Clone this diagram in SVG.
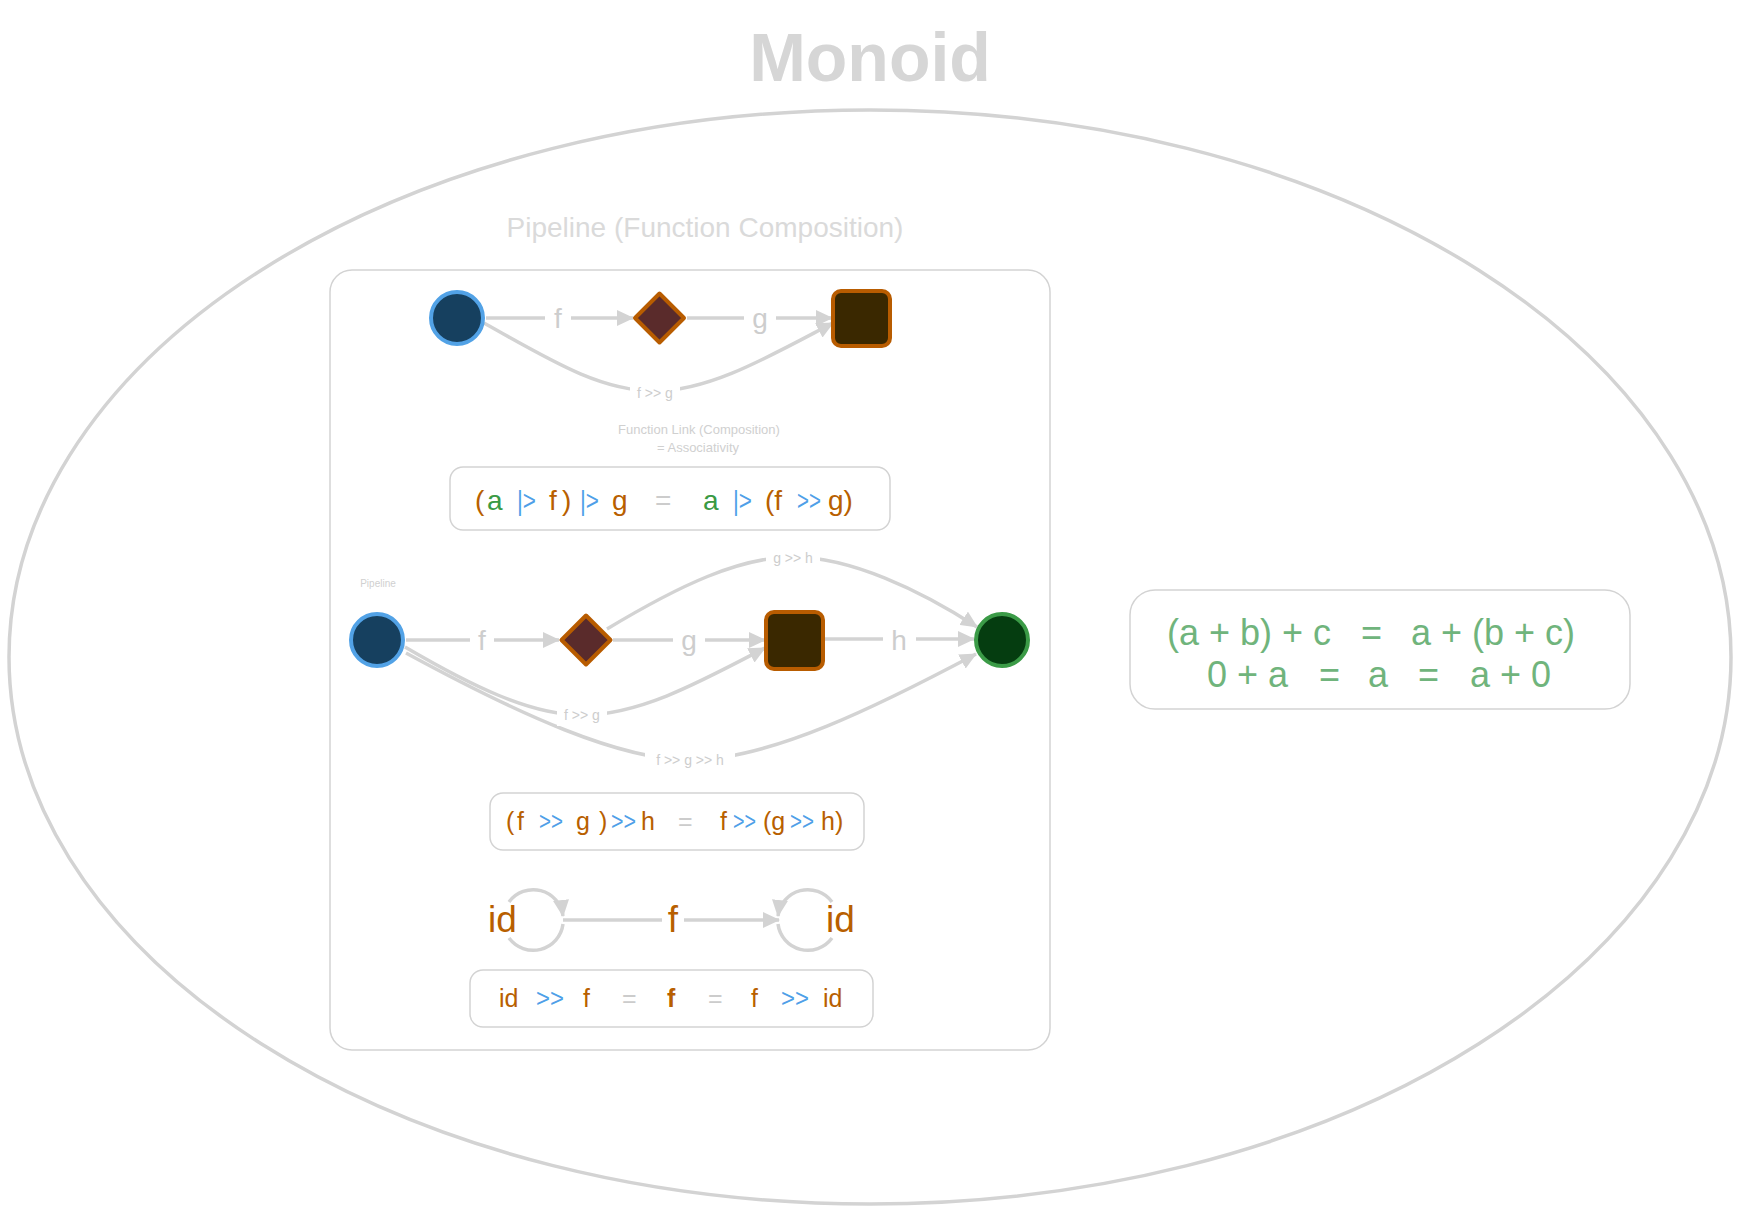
<svg xmlns="http://www.w3.org/2000/svg" width="1740" height="1214" viewBox="0 0 1740 1214">
<style>
text{font-family:"Liberation Sans",Arial,sans-serif}
.edge{fill:none;stroke:#d3d3d3;stroke-width:3.5}
.lbl{fill:#cdcdcd;text-anchor:middle}
.bg{fill:#ffffff}
.o{fill:#b85f00}.b{fill:#4f9fe8}.g{fill:#3a9a44}.q{fill:#cccccc}
.box{fill:#ffffff;stroke:#d3d3d3;stroke-width:1.5}
.circ{fill:#16405f;stroke:#52a2e6;stroke-width:4}
.dia{fill:#5a2b2b;stroke:#b85c00;stroke-width:4;stroke-linejoin:round}
.sq{fill:#3a2800;stroke:#b85c00;stroke-width:4}
.fin{fill:#053d10;stroke:#3b9b47;stroke-width:4}
</style>
<defs>
<marker id="ah" markerUnits="userSpaceOnUse" markerWidth="17" markerHeight="16" refX="16" refY="8" orient="auto" viewBox="0 0 17 16"><path d="M0,0 L17,8 L0,16 z" fill="#d3d3d3"/></marker>
</defs>
<rect width="1740" height="1214" fill="#ffffff"/>
<g id="monoid">
<ellipse cx="870" cy="657" rx="861" ry="547" fill="#ffffff" stroke="#d3d3d3" stroke-width="3.5"/>
<text x="870" y="81" font-size="68" font-weight="bold" fill="#d6d6d6" text-anchor="middle">Monoid</text>
</g>
<g id="pipeline">
<text x="705" y="237" font-size="28" fill="#dadada" text-anchor="middle">Pipeline (Function Composition)</text>
<rect x="330" y="270" width="720" height="780" rx="22" fill="#ffffff" stroke="#d3d3d3" stroke-width="1.5"/>
</g>
<g id="connectors">
<line class="edge" x1="486" y1="318" x2="633" y2="318" marker-end="url(#ah)"/>
<line class="edge" x1="687" y1="318" x2="832" y2="318" marker-end="url(#ah)"/>
<path class="edge" d="M484 323 C550 360,600 391,655 391 C710 391,770 356,833 323" marker-end="url(#ah)"/>
<line class="edge" x1="406" y1="640" x2="559" y2="640" marker-end="url(#ah)"/>
<line class="edge" x1="613" y1="640" x2="765" y2="640" marker-end="url(#ah)"/>
<line class="edge" x1="825" y1="639" x2="974" y2="639" marker-end="url(#ah)"/>
<path class="edge" d="M607 629 C680 585,740 557,793 557 C850 557,920 590,977 627" marker-end="url(#ah)"/>
<path class="edge" d="M405 647 C470 685,530 715,582 715 C640 715,700 682,765 648" marker-end="url(#ah)"/>
<path class="edge" d="M406 653 C520 715,620 760,690 760 C770 760,880 705,976 654" marker-end="url(#ah)"/>
<path class="edge" d="M509 902 A30 30 0 0 1 563 916" marker-end="url(#ah)"/>
<path class="edge" d="M563 924 A30 30 0 0 1 509 938"/>
<line class="edge" x1="563" y1="920" x2="779" y2="920" marker-end="url(#ah)"/>
<path class="edge" d="M832 902 A30 30 0 0 0 778 916" marker-end="url(#ah)"/>
<path class="edge" d="M778 924 A30 30 0 0 0 832 938"/>
</g>
<g id="edge-labels">
<rect class="bg" x="545" y="302" width="26" height="32"/><text class="lbl" x="558" y="328" font-size="28">f</text>
<rect class="bg" x="744" y="302" width="32" height="32"/><text class="lbl" x="760" y="328" font-size="28">g</text>
<rect class="bg" x="630" y="382" width="50" height="20"/><text class="lbl" x="655" y="398" font-size="14">f &gt;&gt; g</text>
<rect class="bg" x="470" y="624" width="24" height="32"/><text class="lbl" x="482" y="650" font-size="28">f</text>
<rect class="bg" x="673" y="624" width="32" height="32"/><text class="lbl" x="689" y="650" font-size="28">g</text>
<rect class="bg" x="883" y="624" width="33" height="32"/><text class="lbl" x="899" y="650" font-size="28">h</text>
<rect class="bg" x="766" y="548" width="54" height="20"/><text class="lbl" x="793" y="563" font-size="14">g &gt;&gt; h</text>
<rect class="bg" x="557" y="706" width="50" height="20"/><text class="lbl" x="582" y="720" font-size="14">f &gt;&gt; g</text>
<rect class="bg" x="645" y="750" width="90" height="20"/><text class="lbl" x="690" y="765" font-size="14">f &gt;&gt; g &gt;&gt; h</text>
<rect class="bg" x="662" y="900" width="22" height="38"/><text x="673" y="932" font-size="37" class="o" text-anchor="middle">f</text>
</g>
<g id="notes">
<text x="699" y="434" font-size="13" fill="#d0d0d0" text-anchor="middle">Function Link (Composition)</text>
<text x="698" y="452" font-size="13" fill="#d0d0d0" text-anchor="middle">=  Associativity</text>
<text x="378" y="587" font-size="10" fill="#d0d0d0" text-anchor="middle">Pipeline</text>
</g>
<g id="node-a1"><circle class="circ" cx="457" cy="318" r="26"/></g>
<g id="node-f1"><polygon class="dia" points="659.5,293.5 684,318 659.5,342.5 635,318"/></g>
<g id="node-g1"><rect class="sq" x="833" y="291" width="57" height="55" rx="8"/></g>
<g id="node-a2"><circle class="circ" cx="377" cy="640" r="26"/></g>
<g id="node-f2"><polygon class="dia" points="586,615.5 610.5,640 586,664.5 561.5,640"/></g>
<g id="node-g2"><rect class="sq" x="766" y="612" width="57" height="57" rx="8"/></g>
<g id="node-h2"><circle class="fin" cx="1002" cy="640" r="26"/></g>
<g id="node-id1"><text x="488" y="932" font-size="37" class="o">id</text></g>
<g id="node-id2"><text x="826" y="932" font-size="37" class="o">id</text></g>
<g id="formula1">
<rect class="box" x="450" y="467" width="440" height="63" rx="13"/>
<text y="510" font-size="28"><tspan x="475" class="o">(</tspan><tspan x="487" class="g">a</tspan><tspan x="517" class="b" textLength="19" lengthAdjust="spacingAndGlyphs">|&gt;</tspan><tspan x="549" class="o">f</tspan><tspan x="562" class="o">)</tspan><tspan x="580" class="b" textLength="19" lengthAdjust="spacingAndGlyphs">|&gt;</tspan><tspan x="612" class="o">g</tspan><tspan x="655" class="q">=</tspan><tspan x="703" class="g">a</tspan><tspan x="733" class="b" textLength="19" lengthAdjust="spacingAndGlyphs">|&gt;</tspan><tspan x="765" class="o">(f</tspan><tspan x="797" class="b" textLength="24" lengthAdjust="spacingAndGlyphs">&gt;&gt;</tspan><tspan x="828" class="o">g)</tspan></text>
</g>
<g id="formula2">
<rect class="box" x="490" y="793" width="374" height="57" rx="13"/>
<text y="830" font-size="25"><tspan x="506" class="o">(</tspan><tspan x="517" class="o">f</tspan><tspan x="539" class="b" textLength="24" lengthAdjust="spacingAndGlyphs">&gt;&gt;</tspan><tspan x="576" class="o">g</tspan><tspan x="599" class="o">)</tspan><tspan x="611" class="b" textLength="25" lengthAdjust="spacingAndGlyphs">&gt;&gt;</tspan><tspan x="641" class="o">h</tspan><tspan x="678" class="q">=</tspan><tspan x="720" class="o">f</tspan><tspan x="733" class="b" textLength="23" lengthAdjust="spacingAndGlyphs">&gt;&gt;</tspan><tspan x="763" class="o">(g</tspan><tspan x="790" class="b" textLength="24" lengthAdjust="spacingAndGlyphs">&gt;&gt;</tspan><tspan x="821" class="o">h)</tspan></text>
</g>
<g id="formula3">
<rect class="box" x="470" y="970" width="403" height="57" rx="13"/>
<text y="1007" font-size="25"><tspan x="499" class="o">id</tspan><tspan x="536" class="b" textLength="28" lengthAdjust="spacingAndGlyphs">&gt;&gt;</tspan><tspan x="583" class="o">f</tspan><tspan x="622" class="q">=</tspan><tspan x="667" class="o" font-weight="bold">f</tspan><tspan x="708" class="q">=</tspan><tspan x="751" class="o">f</tspan><tspan x="781" class="b" textLength="28" lengthAdjust="spacingAndGlyphs">&gt;&gt;</tspan><tspan x="823" class="o">id</tspan></text>
</g>
<g id="monoid-laws">
<rect class="box" x="1130" y="590" width="500" height="119" rx="25"/>
<text font-size="36" fill="#70b47c"><tspan x="1167" y="645">(a + b) + c</tspan><tspan x="1361" y="645">=</tspan><tspan x="1411" y="645">a + (b + c)</tspan><tspan x="1207" y="687">0 + a</tspan><tspan x="1319" y="687">=</tspan><tspan x="1368" y="687">a</tspan><tspan x="1418" y="687">=</tspan><tspan x="1470" y="687">a + 0</tspan></text>
</g>
</svg>
